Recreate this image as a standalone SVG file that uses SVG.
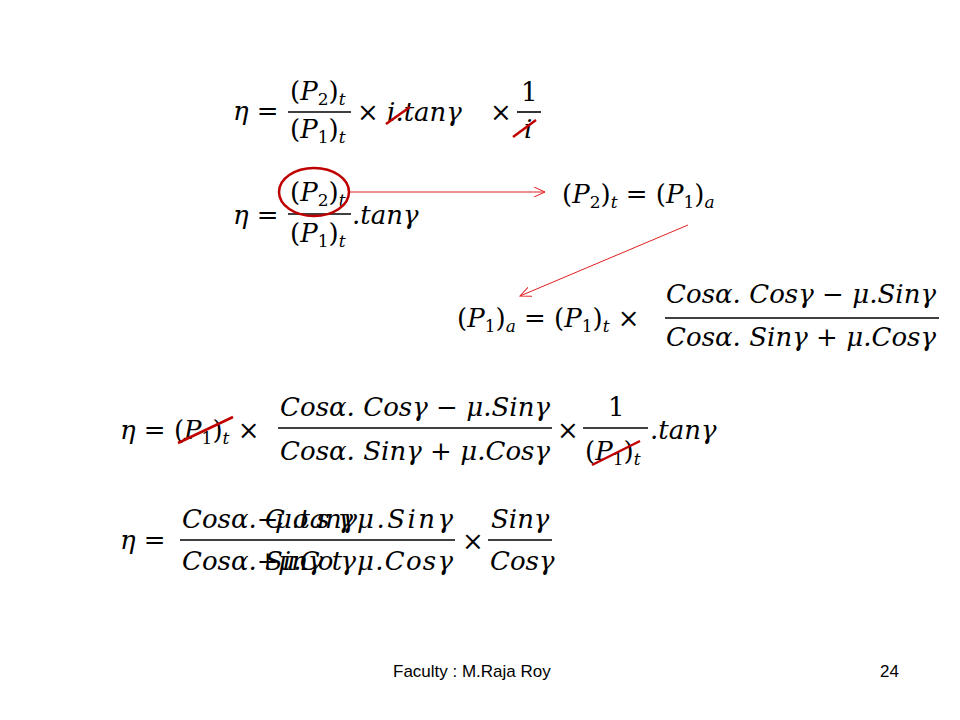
<svg xmlns="http://www.w3.org/2000/svg" width="960" height="720" viewBox="0 0 960 720">
<defs>
<style>
.m{font-family:"DejaVu Serif","Liberation Serif",serif;font-style:italic;font-size:26px;fill:#000}
.u{font-style:normal}
.s{font-size:17px}
.bar{stroke:#000;stroke-width:1.6}
.red{stroke:#c00000;stroke-width:2.5;fill:none}
.ar{stroke:#e02020;stroke-width:1;fill:none}
.f{font-family:"Liberation Sans",Arial,sans-serif;font-size:17px;fill:#000}
</style>
<marker id="a" markerWidth="12" markerHeight="10" refX="11" refY="5" orient="auto" markerUnits="userSpaceOnUse"><path d="M0,0 L11,5 L0,10" fill="none" stroke="#e02020" stroke-width="1"/></marker>
</defs>
<rect width="960" height="720" fill="#fff"/>
<g id="eq1">
<text class="m" x="233" y="120">η <tspan class="u">=</tspan></text>
<text class="m" x="290" y="100"><tspan class="u">(</tspan>P<tspan class="u s" dy="5">2</tspan><tspan class="u" dy="-5">)</tspan><tspan class="s" dy="5">t</tspan></text>
<line class="bar" x1="288" y1="112" x2="351" y2="112"/>
<text class="m" x="290" y="138"><tspan class="u">(</tspan>P<tspan class="u s" dy="5">1</tspan><tspan class="u" dy="-5">)</tspan><tspan class="s" dy="5">t</tspan></text>
<text class="m" x="357" y="121"><tspan class="u">×</tspan> i.tanγ</text>
<text class="m" x="490" y="121"><tspan class="u">×</tspan></text>
<text class="m u" x="521" y="101">1</text>
<line class="bar" x1="517" y1="112" x2="541" y2="112"/>
<text class="m" x="524" y="138">i</text>
<line class="red" x1="386" y1="124" x2="410" y2="107"/>
<line class="red" x1="513" y1="137" x2="536" y2="120"/>
</g>
<g id="eq2">
<text class="m" x="233" y="224">η <tspan class="u">=</tspan></text>
<text class="m" x="290" y="201"><tspan class="u">(</tspan>P<tspan class="u s" dy="5">2</tspan><tspan class="u" dy="-5">)</tspan><tspan class="s" dy="5">t</tspan></text>
<line class="bar" x1="288" y1="214" x2="351" y2="214"/>
<text class="m" x="290" y="242"><tspan class="u">(</tspan>P<tspan class="u s" dy="5">1</tspan><tspan class="u" dy="-5">)</tspan><tspan class="s" dy="5">t</tspan></text>
<text class="m" x="352" y="224">.tanγ</text>
<ellipse class="red" cx="314" cy="192" rx="35" ry="24"/>
</g>
<g id="eq2r">
<text class="m" x="562" y="203"><tspan class="u">(</tspan>P<tspan class="u s" dy="5">2</tspan><tspan class="u" dy="-5">)</tspan><tspan class="s" dy="5">t</tspan><tspan dy="-5" class="u"> = (</tspan>P<tspan class="u s" dy="5">1</tspan><tspan class="u" dy="-5">)</tspan><tspan class="s" dy="5">a</tspan></text>
</g>
<g id="eq3">
<text class="m" x="457" y="327"><tspan class="u">(</tspan>P<tspan class="u s" dy="5">1</tspan><tspan class="u" dy="-5">)</tspan><tspan class="s" dy="5">a</tspan><tspan dy="-5" class="u"> = (</tspan>P<tspan class="u s" dy="5">1</tspan><tspan class="u" dy="-5">)</tspan><tspan class="s" dy="5">t</tspan><tspan dy="-5" class="u"> ×</tspan></text>
<text class="m" x="666" y="303" textLength="270">Cosα. Cosγ <tspan class="u">−</tspan> μ.Sinγ</text>
<line class="bar" x1="665" y1="318" x2="939" y2="318"/>
<text class="m" x="666" y="346" textLength="270">Cosα. Sinγ <tspan class="u">+</tspan> μ.Cosγ</text>
</g>
<g id="eq4">
<text class="m" x="120" y="439">η <tspan class="u">= (</tspan>P<tspan class="u s" dy="5">1</tspan><tspan class="u" dy="-5">)</tspan><tspan class="s" dy="5">t</tspan><tspan dy="-5" class="u"> ×</tspan></text>
<text class="m" x="280" y="416" textLength="270">Cosα. Cosγ <tspan class="u">−</tspan> μ.Sinγ</text>
<line class="bar" x1="278" y1="428" x2="552" y2="428"/>
<text class="m" x="280" y="460" textLength="270">Cosα. Sinγ <tspan class="u">+</tspan> μ.Cosγ</text>
<text class="m u" x="557" y="439">×</text>
<text class="m u" x="608" y="416">1</text>
<line class="bar" x1="583" y1="428" x2="648" y2="428"/>
<text class="m" x="585" y="460"><tspan class="u">(</tspan>P<tspan class="u s" dy="5">1</tspan><tspan class="u" dy="-5">)</tspan><tspan class="s" dy="5">t</tspan></text>
<text class="m" x="650" y="439">.tanγ</text>
<line class="red" x1="178" y1="443" x2="233" y2="417"/>
<line class="red" x1="592" y1="465" x2="640" y2="441"/>
</g>
<g id="eq5">
<text class="m" x="120" y="549">η <tspan class="u">=</tspan></text>
<text class="m" x="182" y="528">Cosα.<tspan class="u">−</tspan></text>
<text class="m" x="265" y="528" textLength="88">Cosγ</text>
<text class="m" x="275" y="528" textLength="82">μ.tanγ</text>
<text class="m" x="357" y="528" textLength="96">μ.Sinγ</text>
<line class="bar" x1="180" y1="540" x2="455" y2="540"/>
<text class="m" x="182" y="570">Cosα.<tspan class="u">+</tspan></text>
<text class="m" x="265" y="570">Sinγ</text>
<text class="m" x="278" y="570" textLength="78">μ.Cotγ</text>
<text class="m" x="357" y="570" textLength="96">μ.Cosγ</text>
<text class="m u" x="462" y="550">×</text>
<text class="m" x="491" y="528">Sinγ</text>
<line class="bar" x1="488" y1="540" x2="552" y2="540"/>
<text class="m" x="490" y="570">Cosγ</text>
</g>
<g id="connectors">
<line class="ar" x1="350" y1="192" x2="545" y2="192" marker-end="url(#a)"/>
<line class="ar" x1="688" y1="225" x2="520" y2="296" marker-end="url(#a)"/>
</g>
<text class="f" x="393" y="677">Faculty : M.Raja Roy</text>
<text class="f" x="880" y="677">24</text>
</svg>
